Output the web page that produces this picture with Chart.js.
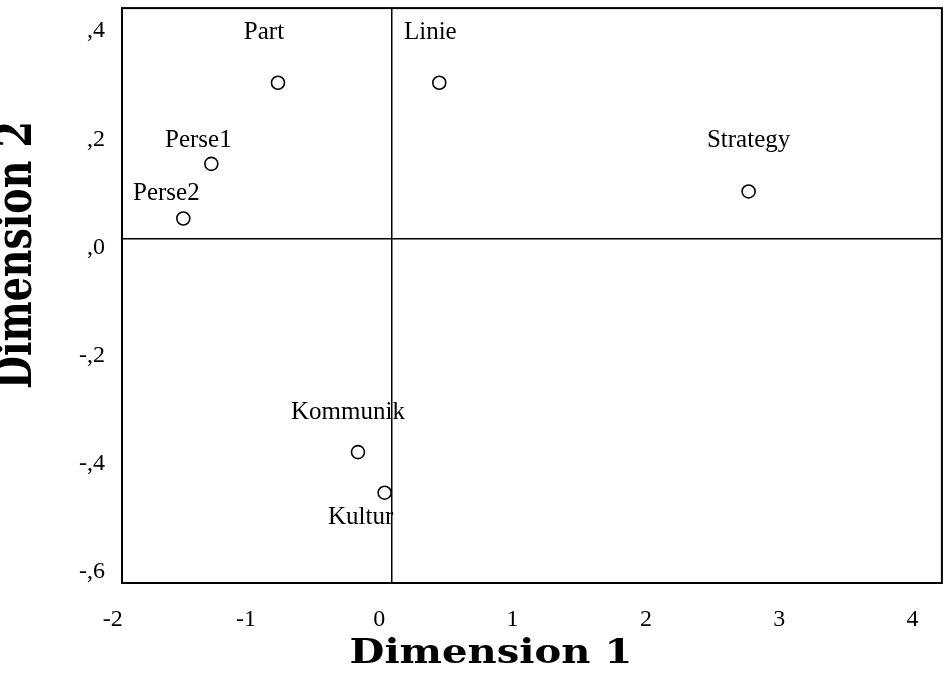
<!DOCTYPE html>
<html>
<head>
<meta charset="utf-8">
<script src="https://cdn.jsdelivr.net/npm/chart.js@4"></script>
<style>
  html, body { margin: 0; padding: 0; background: #fff; overflow: hidden; }
</style>
</head>
<body>
<canvas id="myChart" width="950" height="673"></canvas>
<script>
// object points (dimension 1 / dimension 2)
const names = ['Part', 'Linie', 'Strategy', 'Perse1', 'Perse2', 'Kommunik', 'Kultur'];
const dim1 = [-0.85, 0.36, 2.68, -1.35, -1.56, -0.25, -0.05];
const dim2 = [0.288, 0.288, 0.087, 0.138, 0.037, -0.395, -0.470];

const xTicks = [-2, -1, 0, 1, 2, 3, 4];
const yTicks = [0.4, 0.2, 0, -0.2, -0.4, -0.6];
const yTickLabels = [',4', ',2', ',0', '-,2', '-,4', '-,6'];

// where each name sits relative to its circle, in px
const labelShift = [[-14, -50], [-9, -50], [0, -51], [-13, -23], [-17, -25], [-10, -40], [-24, 25]];

Chart.defaults.font.family = '"Liberation Serif", "Times New Roman", serif';
Chart.defaults.color = '#000';

const points = names.map((n, i) => ({ x: dim1[i], y: dim2[i] }));

const frame = {
  id: 'frame',
  beforeDatasetsDraw(chart) {
    const a = chart.chartArea;
    const c = chart.ctx;
    c.save();
    c.strokeStyle = '#000';
    c.lineWidth = 2;
    c.strokeRect(a.left, a.top, a.right - a.left, a.bottom - a.top);
    c.restore();
  }
};

const pointNames = {
  id: 'pointNames',
  afterDatasetsDraw(chart) {
    const c = chart.ctx;
    const meta = chart.getDatasetMeta(0);
    c.save();
    c.fillStyle = '#000';
    c.font = '25px "Liberation Serif"';
    c.textAlign = 'center';
    c.textBaseline = 'middle';
    meta.data.forEach((el, i) => {
      c.fillText(names[i], el.x + labelShift[i][0], el.y + labelShift[i][1]);
    });
    c.restore();
  }
};

// the scan shows wide, heavy titles; the y one is partly cut by the page edge
const axisTitles = {
  id: 'axisTitles',
  afterDraw(chart) {
    const c = chart.ctx;
    c.save();
    c.fillStyle = '#000';
    c.textAlign = 'center';
    c.textBaseline = 'middle';
    c.font = 'bold 34px "DejaVu Serif"';
    c.translate(491, 654);
    c.scale(1.18, 1);
    c.fillText('Dimension 1', 0, 0);
    c.restore();

    c.save();
    c.fillStyle = '#000';
    c.textAlign = 'center';
    c.textBaseline = 'alphabetic';
    c.font = 'bold 38px "DejaVu Serif"';
    c.translate(31, 255);
    c.rotate(-Math.PI / 2);
    c.scale(1, 1.35);
    c.fillText('Dimension 2', 0, 0);
    c.restore();
  }
};

const ctx = document.getElementById('myChart');

new Chart(ctx, {
  type: 'scatter',
  data: {
    datasets: [{
      data: points,
      pointStyle: 'circle',
      pointRadius: 6.5,
      pointHoverRadius: 6.5,
      borderWidth: 1.6,
      borderColor: '#000',
      backgroundColor: '#fff'
    }]
  },
  options: {
    responsive: false,
    animation: false,
    layout: { padding: { top: 7, right: 3, left: 0, bottom: 0 } },
    plugins: {
      legend: { display: false },
      tooltip: { enabled: false }
    },
    scales: {
      x: {
        type: 'linear',
        min: -2.02,
        max: 4.13,
        afterBuildTicks: s => { s.ticks = xTicks.map(v => ({ value: v })); },
        afterFit: s => { s.height = 90; s.paddingLeft = 0; s.paddingRight = 0; },
        border: { display: false },
        grid: {
          drawTicks: false,
          color: c => (c.tick && c.tick.value === 0 ? '#000' : 'rgba(0,0,0,0)'),
          lineWidth: 1.5
        },
        ticks: {
          font: { size: 24 },
          padding: 22,
          labelOffset: -12,
          maxRotation: 0,
          callback: v => String(v)
        }
      },
      y: {
        type: 'linear',
        min: -0.637,
        max: 0.426,
        afterBuildTicks: s => { s.ticks = yTicks.map(v => ({ value: v })); },
        afterFit: s => { s.width = 122; s.paddingTop = 0; s.paddingBottom = 0; },
        border: { display: false },
        grid: {
          drawTicks: false,
          color: c => (c.tick && c.tick.value === 0 ? '#000' : 'rgba(0,0,0,0)'),
          lineWidth: 1.5
        },
        ticks: {
          font: { size: 24 },
          padding: 17,
          labelOffset: 9,
          callback: v => yTickLabels[yTicks.findIndex(t => Math.abs(t - v) < 1e-6)]
        }
      }
    }
  },
  plugins: [frame, pointNames, axisTitles]
});
</script>
</body>
</html>
